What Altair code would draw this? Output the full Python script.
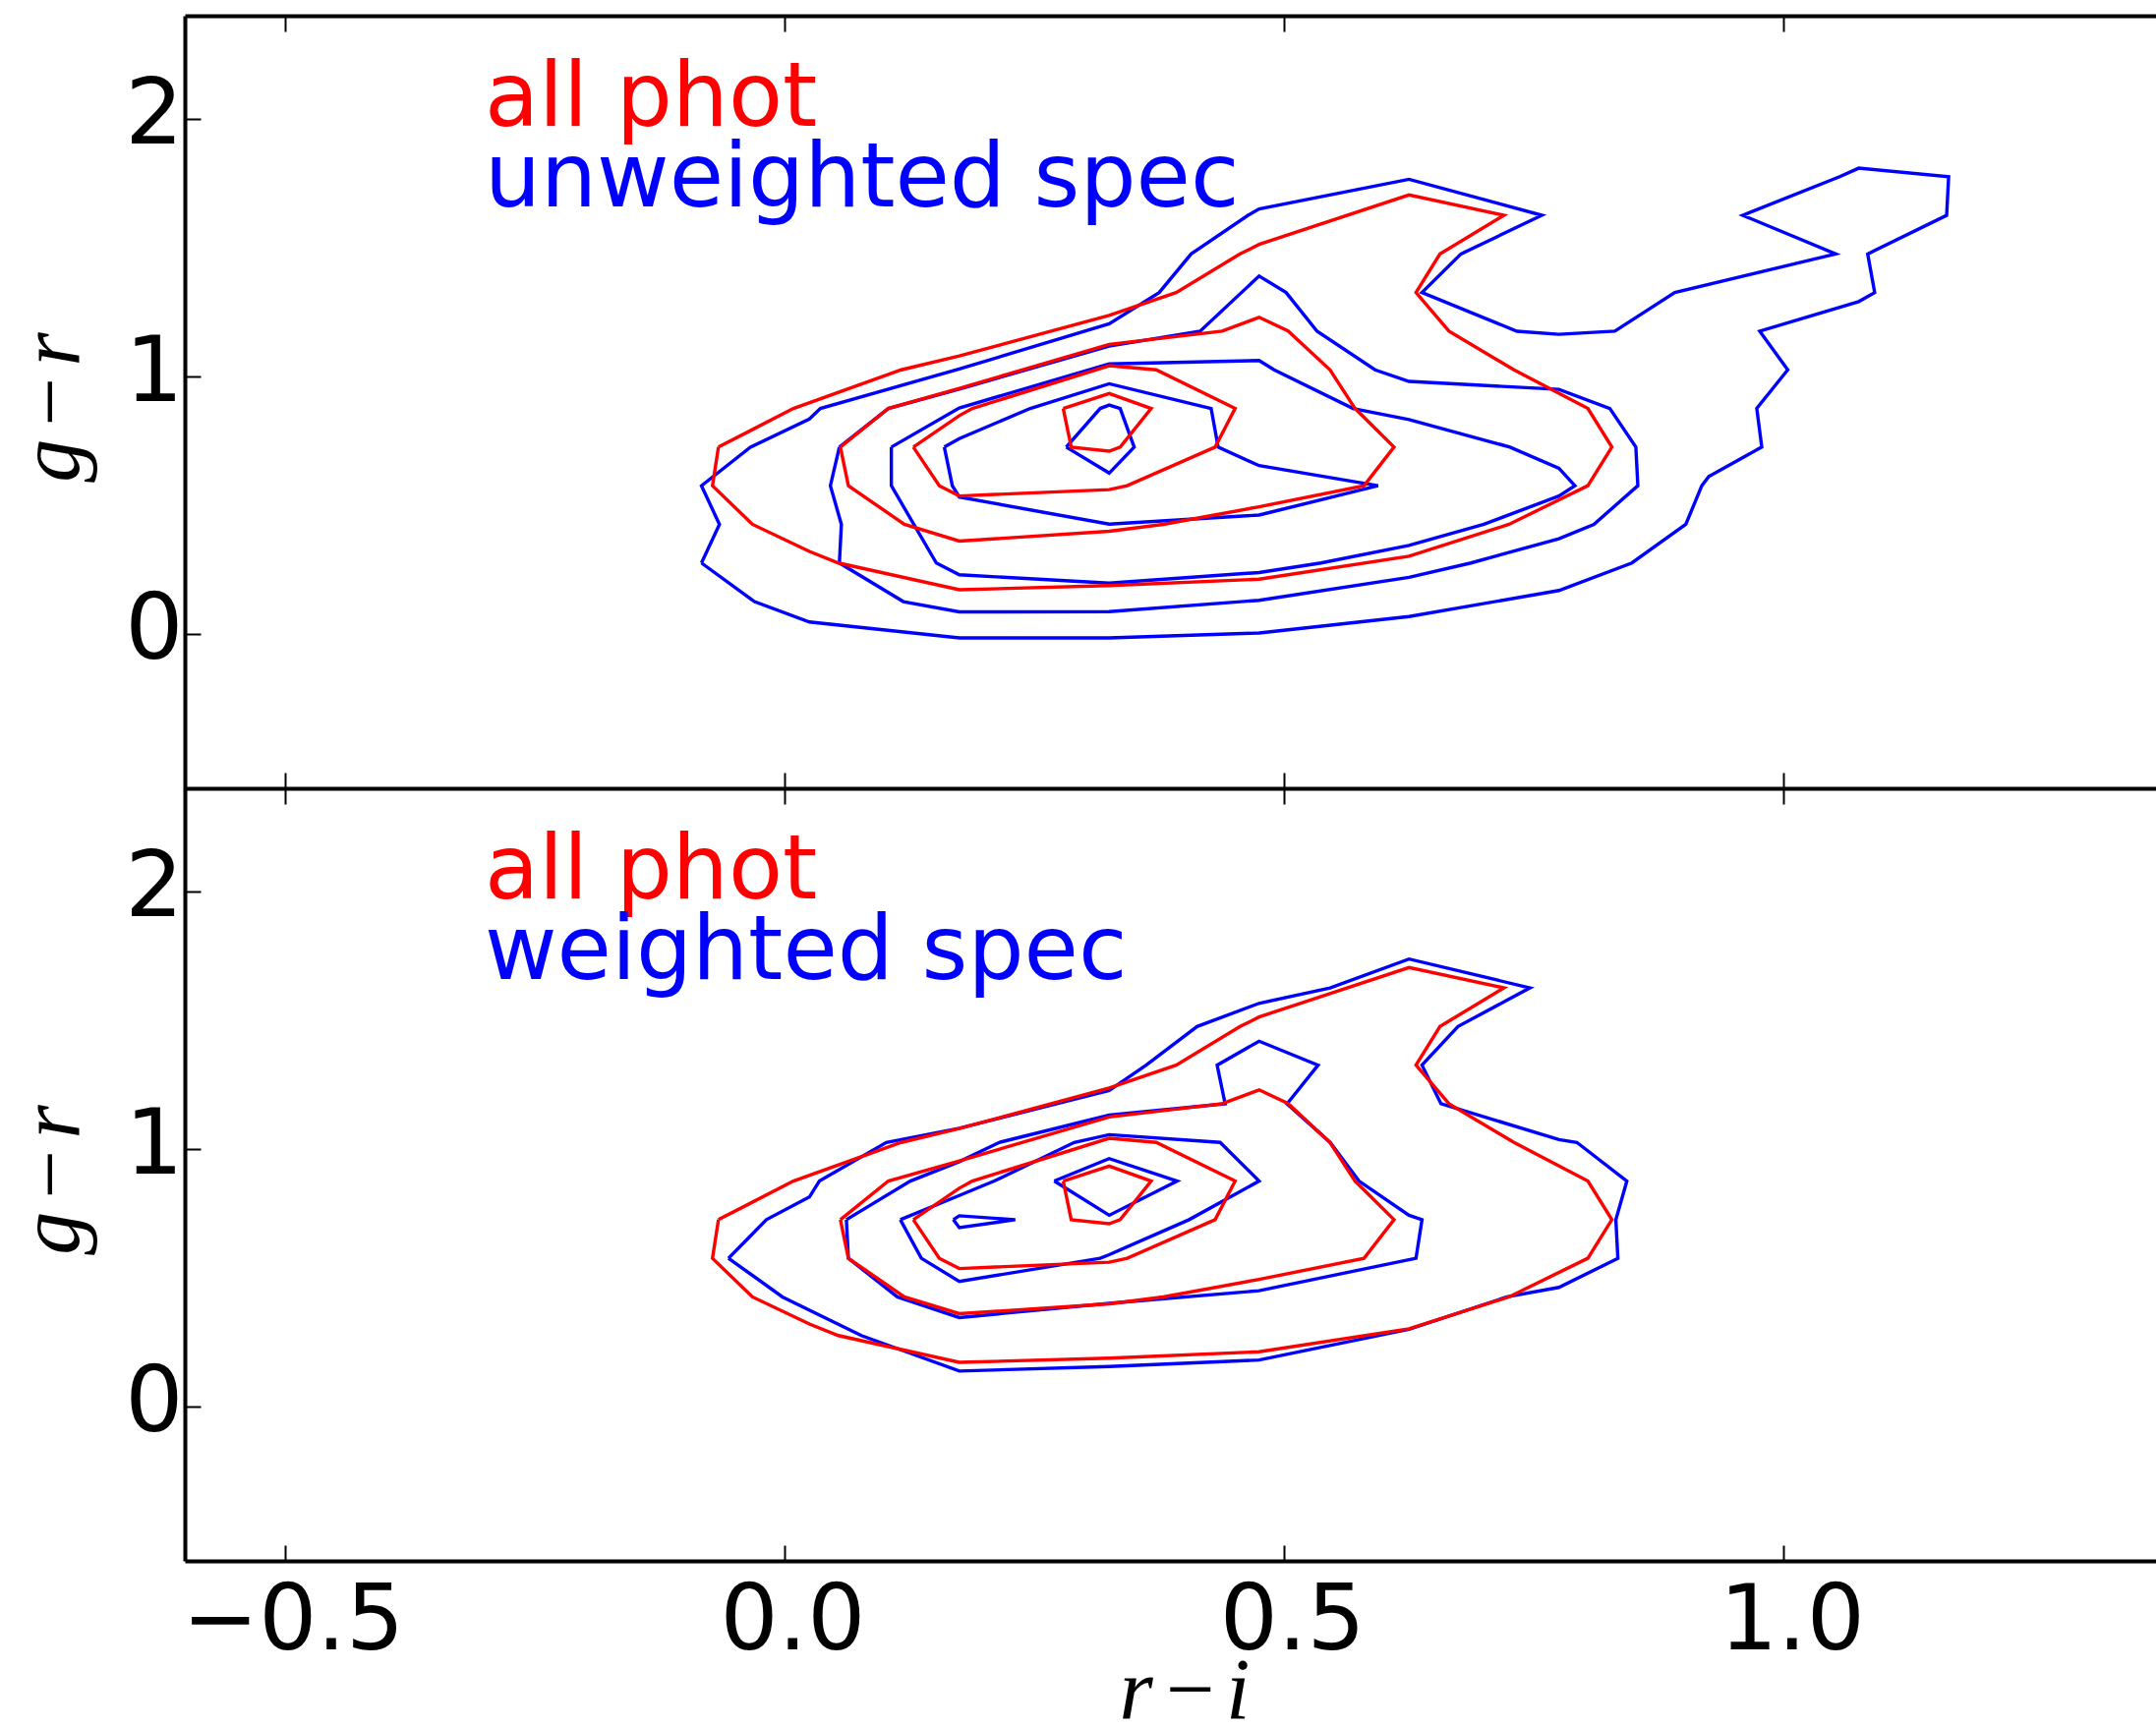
import altair as alt
import pandas as pd

# ---------------- data ----------------
X_TICKS = [-0.5, 0.0, 0.5, 1.0]
Y_TICKS = [0, 1, 2]
X_DOMAIN = [-0.6, 1.3725]
Y_PANEL = [-0.6, 2.4]          # each panel's g-r range
PANEL_SHIFT = 3.0              # bottom panel drawn 3 units below the top one

# "all phot" contours (identical in both panels)
phot_c1 = [(-0.066, 0.725), (0.009, 0.875), (0.117, 1.025), (0.175, 1.079), (0.325, 1.236),
           (0.392, 1.325), (0.456, 1.475), (0.475, 1.512), (0.625, 1.704), (0.720, 1.625),
           (0.656, 1.475), (0.632, 1.325), (0.665, 1.175), (0.730, 1.025), (0.804, 0.875),
           (0.828, 0.725), (0.804, 0.575), (0.725, 0.425), (0.625, 0.301), (0.475, 0.212),
           (0.325, 0.187), (0.175, 0.171), (0.054, 0.275), (0.025, 0.320), (-0.032, 0.425),
           (-0.072, 0.575)]
phot_c2 = [(0.056, 0.725), (0.104, 0.875), (0.175, 0.953), (0.325, 1.124), (0.438, 1.175),
           (0.475, 1.229), (0.504, 1.176), (0.546, 1.025), (0.571, 0.875), (0.610, 0.725),
           (0.580, 0.575), (0.475, 0.493), (0.379, 0.425), (0.325, 0.398), (0.175, 0.360),
           (0.120, 0.425), (0.064, 0.575)]
phot_c3 = [(0.129, 0.725), (0.175, 0.847), (0.188, 0.875), (0.325, 1.041), (0.372, 1.025),
           (0.451, 0.875), (0.431, 0.725), (0.343, 0.575), (0.325, 0.560), (0.175, 0.535),
           (0.155, 0.575)]
phot_c4 = [(0.279, 0.875), (0.325, 0.933), (0.367, 0.875), (0.336, 0.725), (0.325, 0.709),
           (0.287, 0.725)]

# "unweighted spec" contours (top panel)
unw_c1 = [(-0.083, 0.275), (-0.030, 0.125), (0.025, 0.046), (0.175, -0.016), (0.325, -0.016),
          (0.475, 0.003), (0.625, 0.067), (0.775, 0.168), (0.848, 0.275), (0.902, 0.425),
          (0.918, 0.575), (0.925, 0.611), (0.978, 0.725), (0.973, 0.875), (1.004, 1.025),
          (0.976, 1.175), (1.075, 1.290), (1.091, 1.325), (1.084, 1.475), (1.163, 1.625),
          (1.165, 1.775), (1.075, 1.808), (1.056, 1.775), (0.959, 1.625), (1.052, 1.475),
          (0.891, 1.325), (0.831, 1.175), (0.775, 1.163), (0.733, 1.175), (0.638, 1.325),
          (0.677, 1.475), (0.758, 1.625), (0.625, 1.765), (0.475, 1.650), (0.464, 1.625),
          (0.407, 1.475), (0.375, 1.325), (0.325, 1.204), (0.175, 1.028), (0.036, 0.875),
          (0.025, 0.834), (-0.034, 0.725), (-0.083, 0.575), (-0.065, 0.425)]
unw_c2 = [(0.055, 0.725), (0.104, 0.875), (0.175, 0.950), (0.325, 1.117), (0.416, 1.175),
          (0.475, 1.389), (0.502, 1.325), (0.533, 1.175), (0.591, 1.025), (0.625, 0.980),
          (0.775, 0.949), (0.826, 0.875), (0.852, 0.725), (0.854, 0.575), (0.810, 0.425),
          (0.775, 0.369), (0.687, 0.275), (0.625, 0.219), (0.475, 0.130), (0.325, 0.086),
          (0.175, 0.085), (0.119, 0.125), (0.055, 0.275), (0.057, 0.425), (0.046, 0.575)]
unw_c3 = [(0.107, 0.725), (0.175, 0.877), (0.325, 1.048), (0.475, 1.061), (0.490, 1.025),
          (0.569, 0.875), (0.625, 0.832), (0.726, 0.725), (0.775, 0.643), (0.791, 0.575),
          (0.775, 0.535), (0.700, 0.425), (0.625, 0.343), (0.537, 0.275), (0.475, 0.238),
          (0.325, 0.197), (0.175, 0.229), (0.152, 0.275), (0.107, 0.575)]
unw_c4 = [(0.160, 0.725), (0.175, 0.758), (0.246, 0.875), (0.325, 0.971), (0.427, 0.875),
          (0.434, 0.725), (0.475, 0.653), (0.594, 0.575), (0.475, 0.461), (0.325, 0.426),
          (0.175, 0.531), (0.168, 0.575)]
unw_c5 = [(0.282, 0.725), (0.316, 0.875), (0.325, 0.888), (0.336, 0.875), (0.350, 0.725),
          (0.325, 0.624)]

# "weighted spec" contours (bottom panel)
wgt_c1 = [(-0.056, 0.575), (-0.018, 0.725), (0.025, 0.813), (0.035, 0.875), (0.102, 1.025),
          (0.175, 1.080), (0.325, 1.227), (0.362, 1.325), (0.413, 1.475), (0.475, 1.565),
          (0.546, 1.625), (0.625, 1.737), (0.746, 1.625), (0.674, 1.475), (0.638, 1.325),
          (0.657, 1.175), (0.775, 1.036), (0.793, 1.025), (0.843, 0.875), (0.832, 0.725),
          (0.834, 0.575), (0.775, 0.462), (0.723, 0.425), (0.625, 0.299), (0.475, 0.180),
          (0.325, 0.155), (0.175, 0.137), (0.077, 0.275), (-0.002, 0.425)]
wgt_c2 = [(0.062, 0.725), (0.126, 0.875), (0.175, 0.950), (0.215, 1.025), (0.325, 1.131),
          (0.441, 1.175), (0.433, 1.325), (0.475, 1.418), (0.534, 1.325), (0.503, 1.175),
          (0.546, 1.025), (0.575, 0.875), (0.625, 0.742), (0.638, 0.725), (0.632, 0.575),
          (0.475, 0.449), (0.325, 0.400), (0.175, 0.345), (0.113, 0.425), (0.064, 0.575)]
wgt_c3 = [(0.116, 0.725), (0.175, 0.819), (0.210, 0.875), (0.290, 1.025), (0.325, 1.055),
          (0.436, 1.025), (0.475, 0.875), (0.405, 0.725), (0.325, 0.589), (0.316, 0.575),
          (0.175, 0.485), (0.137, 0.575)]
wgt_c4 = [(0.270, 0.875), (0.325, 0.962), (0.393, 0.875), (0.325, 0.742)]
wgt_c5 = [(0.169, 0.725), (0.175, 0.740), (0.231, 0.725), (0.175, 0.694)]

# legend-like annotations
annot_text = ["all phot", "unweighted spec", "all phot", "weighted spec"]
annot_series = ["phot", "spec", "phot", "spec"]
annot_panel = ["top", "top", "bottom", "bottom"]
annot_x = [-0.3, -0.3, -0.3, -0.3]
annot_y = [1.971, 1.658, 1.971, 1.658]

SERIES = ["phot", "spec"]
COLORS = ["#ff0000", "#0000ff"]


def contour_rows(series, panel, contours):
    rows = []
    for k, pts in enumerate(contours):
        ring = list(pts) + [pts[0]]
        for i, (x, y) in enumerate(ring):
            rows.append({"series": series, "panel": panel,
                         "cid": f"{panel}|{series}|{k}", "i": i, "x": x, "y": y})
    return rows


phot_set = [phot_c1, phot_c2, phot_c3, phot_c4]
spec_rows = (contour_rows("spec", "top", [unw_c1, unw_c2, unw_c3, unw_c4, unw_c5])
             + contour_rows("spec", "bottom", [wgt_c1, wgt_c2, wgt_c3, wgt_c4, wgt_c5]))
phot_rows = contour_rows("phot", "top", phot_set) + contour_rows("phot", "bottom", phot_set)

spec_df = pd.DataFrame(spec_rows)
phot_df = pd.DataFrame(phot_rows)
annot_df = pd.DataFrame({"text": annot_text, "series": annot_series, "panel": annot_panel,
                         "x": annot_x, "y": annot_y})
anchor_df = pd.DataFrame({"x": X_TICKS, "y": [0.0] * len(X_TICKS)})

# ---------------- layout ----------------
PX_PER_X = 1016.5
PX_PER_Y = 262.0
W = 2005
H = int(round(PX_PER_Y * 2 * (Y_PANEL[1] - Y_PANEL[0])))  # 1572
MID = H / 2.0
TICK = 16
FRAME_W = 4

shift_expr = f"datum.panel === 'bottom' ? datum.y - {PANEL_SHIFT} : datum.y"
xs = alt.Scale(domain=X_DOMAIN, nice=False, zero=False)
ys = alt.Scale(domain=[Y_PANEL[0] - PANEL_SHIFT, Y_PANEL[1]], nice=False, zero=False)
cs = alt.Scale(domain=SERIES, range=COLORS)

LABEL_FONT = "DejaVu Sans"
TITLE_FONT = "Liberation Serif"

common_axis = dict(grid=False, labelFlush=False, labelOverlap=False, labelLimit=600)

ax_top_border = alt.Axis(orient="top", offset=0, domain=True, domainWidth=FRAME_W, ticks=False,
                         labels=False, title=None, **common_axis)
ax_top_ticks = alt.Axis(orient="top", offset=-TICK, domain=False, ticks=True, tickSize=TICK,
                        tickWidth=2, values=X_TICKS, labels=False, title=None, **common_axis)
ax_mid_up = alt.Axis(orient="top", offset=-MID, domain=True, domainWidth=FRAME_W, ticks=True,
                     tickSize=TICK, tickWidth=2, values=X_TICKS, labels=False, title=None,
                     **common_axis)
ax_mid_down = alt.Axis(orient="bottom", offset=-(H - MID), domain=False, ticks=True,
                       tickSize=TICK, tickWidth=2, values=X_TICKS, labels=False, title=None,
                       **common_axis)
ax_bottom_ticks = alt.Axis(orient="bottom", offset=-TICK, domain=False, ticks=True,
                           tickSize=TICK, tickWidth=2, values=X_TICKS, format=".1f",
                           labels=True, labelPadding=16, labelFontSize=93, labelOffset=8,
                           title="r\u200a\u2212\u200ai", titleX=(0.4 - X_DOMAIN[0]) * PX_PER_X,
                           titleY=175, titleBaseline="alphabetic", titleAlign="center",
                           **common_axis)
ax_bottom_border = alt.Axis(orient="bottom", offset=0, domain=True, domainWidth=FRAME_W,
                            ticks=False, labels=False, title=None, **common_axis)

ay_border = alt.Axis(orient="left", offset=0, domain=True, domainWidth=FRAME_W, ticks=False,
                     labels=False, title=None, **common_axis)
ay_top = alt.Axis(orient="left", offset=-TICK, domain=False, ticks=True, tickSize=TICK,
                  tickWidth=2, values=Y_TICKS, format="d", labelPadding=2, labelFontSize=93,
                  labelBaseline="middle", labelOffset=-3,
                  title="g\u200a\u2212\u200ar", titleAngle=270, titleX=-125, titleY=398,
                  titleAlign="center", titleBaseline="alphabetic", **common_axis)
ay_bottom = alt.Axis(orient="left", offset=-TICK, domain=False, ticks=True, tickSize=TICK,
                     tickWidth=2, values=[v - PANEL_SHIFT for v in Y_TICKS],
                     labelExpr=f"format(datum.value + {PANEL_SHIFT}, 'd')",
                     labelPadding=2, labelFontSize=93, labelBaseline="middle", labelOffset=-3,
                     title="g\u200a\u2212\u200ar", titleAngle=270, titleX=-125,
                     titleY=398 + MID, titleAlign="center", titleBaseline="alphabetic",
                     **common_axis)


def axis_layer(xaxis, yaxis):
    return alt.Chart(anchor_df).mark_point(opacity=0).encode(
        x=alt.X("x:Q", scale=xs, axis=xaxis),
        y=alt.Y("y:Q", scale=ys, axis=yaxis),
    )


def line_layer(df):
    return alt.Chart(df).transform_calculate(yy=shift_expr).mark_line(
        strokeWidth=3.4).encode(
        x=alt.X("x:Q", scale=xs, axis=None),
        y=alt.Y("yy:Q", scale=ys, axis=None),
        color=alt.Color("series:N", scale=cs, legend=None),
        detail="cid:N",
        order="i:Q",
    )


text_layer = alt.Chart(annot_df).transform_calculate(yy=shift_expr).mark_text(
    align="left", baseline="alphabetic", font=LABEL_FONT, fontSize=90).encode(
    x=alt.X("x:Q", scale=xs, axis=None),
    y=alt.Y("yy:Q", scale=ys, axis=None),
    text="text:N",
    color=alt.Color("series:N", scale=cs, legend=None),
)

chart = alt.layer(
    axis_layer(ax_top_border, ay_border),
    axis_layer(ax_top_ticks, ay_top),
    axis_layer(ax_mid_up, ay_bottom),
    axis_layer(ax_mid_down, None),
    axis_layer(ax_bottom_ticks, None),
    axis_layer(ax_bottom_border, None),
    line_layer(spec_df),
    line_layer(phot_df),
    text_layer,
).resolve_axis(
    x="independent", y="independent"
).properties(
    width=W, height=H,
    autosize=alt.AutoSizeParams(type="none"),
    padding={"left": 188, "top": 16, "right": 0, "bottom": 166},
    background="white",
).configure_view(
    stroke=None
).configure_axis(
    labelFont=LABEL_FONT, labelColor="black", tickColor="black", domainColor="black",
    titleFont=TITLE_FONT, titleFontStyle="italic", titleFontWeight="normal",
    titleFontSize=88, titleColor="black",
)

chart.save("out.html", embed_options={"renderer": "svg", "actions": False})
